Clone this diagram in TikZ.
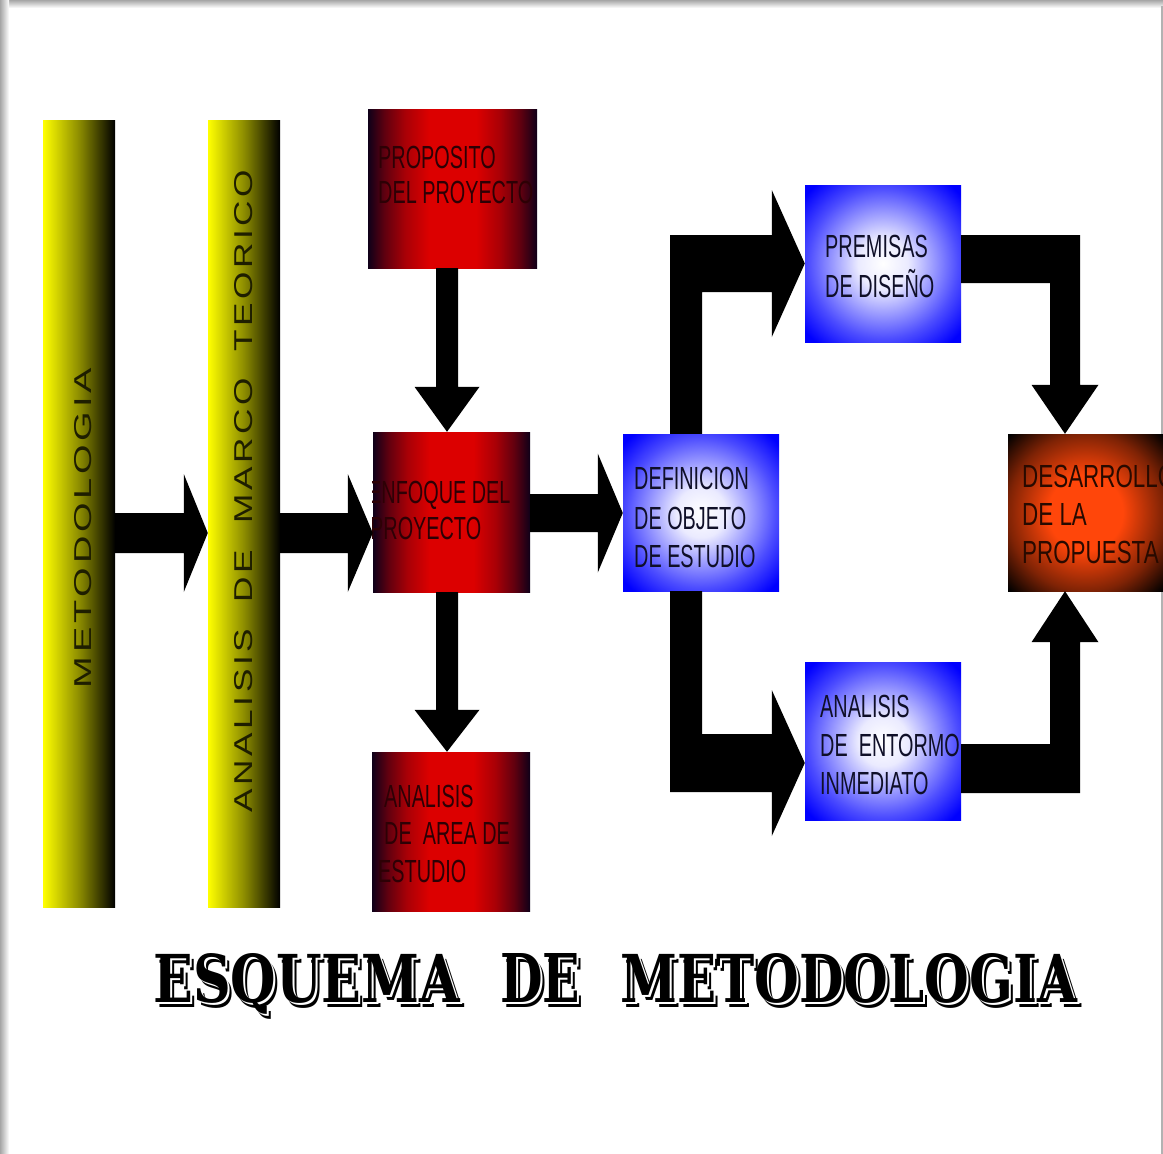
\documentclass[tikz,border=0pt]{standalone}
\usepackage{fontspec}
\setmainfont{Liberation Sans}
\newfontfamily\boxfont[FakeStretch=0.62]{Liberation Sans}
\newfontfamily\wideboxfont[FakeStretch=0.7]{Liberation Sans}
\newfontfamily\barfont[LetterSpace=10]{Liberation Sans}
\newfontfamily\titlefont{DejaVu Serif}
\usetikzlibrary{calc}
\definecolor{rdark}{RGB}{15,0,25}
\definecolor{rmid}{RGB}{220,0,0}
\definecolor{orng}{RGB}{255,70,10}
\definecolor{redtxt}{RGB}{45,0,5}
\definecolor{bluetxt}{RGB}{15,15,40}
\definecolor{ortxt}{RGB}{40,10,0}
\definecolor{bartxt}{RGB}{30,30,0}
\pgfdeclarehorizontalshading{redgrad}{100bp}{color(0bp)=(rdark); color(25bp)=(rdark); color(30bp)=(rmid!40!rdark); color(36bp)=(rmid!75!rdark); color(43bp)=(rmid); color(57bp)=(rmid); color(64bp)=(rmid!75!rdark); color(70bp)=(rmid!40!rdark); color(75bp)=(rdark); color(100bp)=(rdark)}
\pgfdeclareradialshading{bluegrad}{\pgfpoint{0bp}{0bp}}{color(0bp)=(white); color(8bp)=(white!92!blue); color(24bp)=(blue!70!white); color(33bp)=(blue); color(50bp)=(blue)}
\pgfdeclareradialshading{orangegrad}{\pgfpoint{0bp}{0bp}}{color(0bp)=(orng); color(12bp)=(orng); color(25bp)=(orng!50!black); color(35bp)=(black); color(50bp)=(black)}
\newcommand\rarr[5]{\fill[arr] ($(#1)+(0,-#3)$) -- ($(#2)+(-#5,-#3)$) -- ($(#2)+(-#5,-#4)$) -- (#2) -- ($(#2)+(-#5,#4)$) -- ($(#2)+(-#5,#3)$) -- ($(#1)+(0,#3)$) -- cycle;}
\newcommand\darr[5]{\fill[arr] ($(#1)+(-#3,0)$) -- ($(#2)+(-#3,-#5)$) -- ($(#2)+(-#4,-#5)$) -- (#2) -- ($(#2)+(#4,-#5)$) -- ($(#2)+(#3,-#5)$) -- ($(#1)+(#3,0)$) -- cycle;}
\newcommand\ttlword[4]{%
  \node[ttl,text=black] (#1s) at (#2+4,1007) {\resizebox{#3pt}{49pt}{#4}};
  \node[ttl,text=white] (#1w) at (#2+2,1004.5) {\resizebox{#3pt}{49pt}{#4}};
  \node[ttl,text=black] (#1) at (#2,1002) {\resizebox{#3pt}{49pt}{#4}};}
\begin{document}
\begin{tikzpicture}[x=1pt,y=-1pt,
  ybar/.style={rectangle,inner sep=0pt,left color=yellow,right color=black,middle color=yellow!55!black,minimum width=72pt,minimum height=787pt},
  redbox/.style={rectangle,inner sep=0pt,shade,shading=redgrad},
  bluebox/.style={rectangle,inner sep=0pt,shade,shading=bluegrad},
  orbox/.style={rectangle,inner sep=0pt,shade,shading=orangegrad},
  arr/.style={fill=black},
  txt/.style={anchor=base west,inner sep=0pt,font=\boxfont\fontsize{32}{32}\selectfont},
  wtxt/.style={anchor=base west,inner sep=0pt,font=\wideboxfont\fontsize{32}{32}\selectfont},
  bartext/.style={rotate=90,inner sep=0pt,text=bartxt},
  ttl/.style={anchor=base west,inner sep=0pt,font=\titlefont\bfseries\fontsize{60}{60}\selectfont}]
\useasboundingbox (0,0) rectangle (1163,1154);
% page frame
\fill[white] (0,0) rectangle (1163,1154);
\shade[top color=black!35,bottom color=white] (0,0) rectangle (1163,8);
\shade[left color=black!35,right color=white] (0,0) rectangle (9,1154);
\fill[black!30] (1160.5,6) rectangle (1162.5,1154);
% yellow bars
\node[ybar] (b1) at (79,513.5) {};
\node[ybar] (b2) at (244,513.5) {};
\node[bartext] (t1) at (83.5,528) {\resizebox{320pt}{17pt}{\barfont METODOLOGIA}};
\node[bartext] (t2) at (244,491) {\resizebox{642pt}{18pt}{\barfont ANALISIS\ \ DE\ \ MARCO\ \ TEORICO}};
% red boxes
\node[redbox,minimum width=169pt,minimum height=159pt] (p1) at (452.5,188.5) {};
\node[redbox,minimum width=157pt,minimum height=160pt] (p2) at (451.5,512) {};
\node[redbox,minimum width=158pt,minimum height=159pt] (p3) at (451,831.5) {};
% blue boxes
\node[bluebox,minimum width=156pt,minimum height=157pt] (d) at (701,512.5) {};
\node[bluebox,minimum width=156pt,minimum height=157pt] (pr) at (883,263.5) {};
\node[bluebox,minimum width=156pt,minimum height=158pt] (en) at (883,741) {};
\node[orbox,minimum width=155pt,minimum height=157pt] (ds) at (1085.5,512.5) {};
% texts
\begin{scope}
\clip (p1.north west) rectangle (p1.south east);
\node[txt,text=redtxt] (x1a) at (378,168) {PROPOSITO};
\node[txt,text=redtxt] (x1b) at (378,203) {DEL PROYECTO};
\end{scope}
\begin{scope}
\clip (p2.north west) rectangle (p2.south east);
\node[txt,text=redtxt] (x2a) at (368,503) {ENFOQUE DEL};
\node[txt,text=redtxt] (x2b) at (370,539) {PROYECTO};
\end{scope}
\begin{scope}
\clip (p3.north west) rectangle (p3.south east);
\node[txt,text=redtxt] (x3a) at (384,807) {ANALISIS};
\node[txt,text=redtxt] (x3b) at (384,844) {DE\ \ AREA DE};
\node[txt,text=redtxt] (x3c) at (378,882) {ESTUDIO};
\end{scope}
\begin{scope}
\clip (d.north west) rectangle (d.south east);
\node[txt,text=bluetxt] (x4a) at (634,489) {DEFINICION};
\node[txt,text=bluetxt] (x4b) at (634,529) {DE OBJETO};
\node[txt,text=bluetxt] (x4c) at (634,567) {DE ESTUDIO};
\end{scope}
\begin{scope}
\clip (pr.north west) rectangle (pr.south east);
\node[txt,text=bluetxt] (x5a) at (825,257) {PREMISAS};
\node[txt,text=bluetxt] (x5b) at (825,297) {DE DISEÑO};
\end{scope}
\begin{scope}
\clip (en.north west) rectangle (en.south east);
\node[txt,text=bluetxt] (x6a) at (820,717) {ANALISIS};
\node[txt,text=bluetxt] (x6b) at (820,756) {DE\ \ ENTORMO};
\node[txt,text=bluetxt] (x6c) at (820,794) {INMEDIATO};
\end{scope}
\begin{scope}
\clip (ds.north west) rectangle (ds.south east);
\node[wtxt,text=ortxt] (x7a) at (1022,487) {DESARROLLO};
\node[wtxt,text=ortxt] (x7b) at (1022,525) {DE LA};
\node[wtxt,text=ortxt] (x7c) at (1022,563) {PROPUESTA};
\end{scope}
% straight arrows
\rarr{b1.east|-0,533}{b2.west|-0,533}{20}{59}{24}
\rarr{b2.east|-0,533}{p2.west|-0,533}{20}{59}{25}
\darr{p1.south-|447,0}{p2.north-|447,0}{11}{32.5}{45}
\darr{p2.south-|447,0}{p3.north-|447,0}{11}{32.5}{42}
\rarr{p2.east|-0,513}{d.west|-0,513}{19}{59.5}{25}
% elbow arrows
\coordinate (e1s) at (d.north-|686,0);
\coordinate (e1t) at (pr.west|-0,263.5);
\fill[arr] ($(e1s)+(-16,0)$) -- ($(e1s|-e1t)+(-16,-28.5)$) -- ($(e1t)+(-33,-28.5)$) -- ($(e1t)+(-33,-73.5)$) -- (e1t) -- ($(e1t)+(-33,73.5)$) -- ($(e1t)+(-33,28.5)$) -- ($(e1s|-e1t)+(16,28.5)$) -- ($(e1s)+(16,0)$) -- cycle;
\coordinate (e2s) at (d.south-|686,0);
\coordinate (e2t) at (en.west|-0,763);
\fill[arr] ($(e2s)+(-16,0)$) -- ($(e2s|-e2t)+(-16,29)$) -- ($(e2t)+(-33,29)$) -- ($(e2t)+(-33,73)$) -- (e2t) -- ($(e2t)+(-33,-73)$) -- ($(e2t)+(-33,-29)$) -- ($(e2s|-e2t)+(16,-29)$) -- ($(e2s)+(16,0)$) -- cycle;
\coordinate (e3s) at (pr.east|-0,259);
\coordinate (e3t) at (ds.north-|1065,0);
\fill[arr] ($(e3s)+(0,-24)$) -- ($(e3t|-e3s)+(15,-24)$) -- ($(e3t)+(15,-49)$) -- ($(e3t)+(33.5,-49)$) -- (e3t) -- ($(e3t)+(-33.5,-49)$) -- ($(e3t)+(-15,-49)$) -- ($(e3t|-e3s)+(-15,24)$) -- ($(e3s)+(0,24)$) -- cycle;
\coordinate (e4s) at (en.east|-0,768.5);
\coordinate (e4t) at (ds.south-|1065,0);
\fill[arr] ($(e4s)+(0,24.5)$) -- ($(e4t|-e4s)+(15,24.5)$) -- ($(e4t)+(15,51)$) -- ($(e4t)+(33.5,51)$) -- (e4t) -- ($(e4t)+(-33.5,51)$) -- ($(e4t)+(-15,51)$) -- ($(e4t|-e4s)+(-15,-24.5)$) -- ($(e4s)+(0,-24.5)$) -- cycle;
% title
\ttlword{w1}{153}{307}{ESQUEMA}
\ttlword{w2}{500}{80}{DE}
\ttlword{w3}{620}{457}{METODOLOGIA}
\end{tikzpicture}
\end{document}
